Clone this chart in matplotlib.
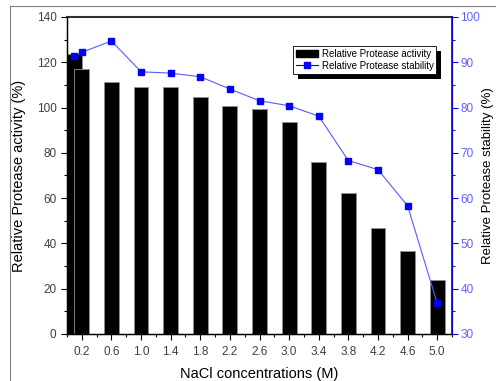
#!/usr/bin/env python3
# -*- coding: utf-8 -*-
"""Protease activity (bars) and stability (line) versus NaCl concentration."""

import numpy as np
import matplotlib.pyplot as plt
from matplotlib.lines import Line2D
from matplotlib.patches import Rectangle
from matplotlib.transforms import IdentityTransform
from matplotlib.ticker import MultipleLocator, FixedLocator

# -----------------------------
# Data
# -----------------------------
nacl = [0.1, 0.2, 0.6, 1.0, 1.4, 1.8, 2.2, 2.6, 3.0, 3.4, 3.8, 4.2, 4.6, 5.0]
activity = [123.5, 117.2, 111.3, 109.2, 109.2, 104.5, 100.6, 99.4, 93.6,
            76.0, 62.1, 47.0, 36.7, 23.9]
stability = [91.4, 92.2, 94.7, 87.9, 87.6, 86.8, 84.1, 81.5, 80.4,
             78.1, 68.3, 66.3, 58.3, 36.8]
tick_labels = ["0.2", "0.6", "1.0", "1.4", "1.8", "2.2", "2.6", "3.0",
               "3.4", "3.8", "4.2", "4.6", "5.0"]

BLUE = "#0000ff"
TICK_GRAY = "#404040"


def main() -> None:
    plt.rcParams["font.family"] = ["Liberation Sans", "DejaVu Sans"]

    fig = plt.figure(figsize=(4.96, 3.81), dpi=100)
    ax = fig.add_axes([0.1351, 0.1234, 0.7762, 0.832])

    # outer frame of the original figure (only top and left visible)
    fig.add_artist(Line2D([10 / 496, 1.0], [1 - 6 / 381, 1 - 6 / 381],
                          transform=fig.transFigure, color="#808080", lw=0.8))
    fig.add_artist(Line2D([10 / 496, 10 / 496], [0.0, 1 - 6 / 381],
                          transform=fig.transFigure, color="#808080", lw=0.8))

    # ---- bars: activity
    ax.bar(nacl, activity, width=0.2, color="black", edgecolor="#909090",
           linewidth=0.6, zorder=2)
    ax.set_xlim(0, 5.2)
    ax.set_ylim(0, 140)
    ax.yaxis.set_major_locator(MultipleLocator(20))
    ax.yaxis.set_minor_locator(MultipleLocator(10))
    ax.xaxis.set_major_locator(FixedLocator([float(t) for t in tick_labels]))
    ax.xaxis.set_minor_locator(FixedLocator(np.arange(0.0, 5.3, 0.4)))
    ax.set_xticklabels(tick_labels)
    ax.tick_params(axis="both", which="major", direction="out", length=4,
                   width=0.8, colors="black", labelcolor=TICK_GRAY, labelsize=8.5)
    ax.tick_params(axis="both", which="minor", direction="out", length=2,
                   width=0.8, colors="black")
    ax.tick_params(axis="x", pad=5)
    ax.set_xlabel("NaCl concentrations (M)", fontsize=10.5, labelpad=6)
    ax.set_ylabel("Relative Protease activity (%)", fontsize=10.5, labelpad=8)
    for side in ("left", "bottom"):
        ax.spines[side].set_linewidth(1.0)
    ax.spines["top"].set_color("#303030")
    ax.spines["top"].set_linewidth(1.5)

    # ---- line: stability on twin axis
    ax2 = ax.twinx()
    ax2.plot(nacl, stability, color="#5a5aff", lw=0.8, marker="s",
             markersize=5, markerfacecolor=BLUE, markeredgecolor=BLUE, zorder=3)
    ax2.set_ylim(30, 100)
    ax2.yaxis.set_major_locator(MultipleLocator(10))
    ax2.yaxis.set_minor_locator(MultipleLocator(5))
    ax2.tick_params(axis="y", which="major", direction="out", length=4,
                    width=0.8, colors=BLUE, labelcolor="#6060ff", labelsize=8.5,
                    pad=2)
    ax2.tick_params(axis="y", which="minor", direction="out", length=2,
                    width=0.8, colors=BLUE)
    ax2.spines["right"].set_color(BLUE)
    ax2.spines["right"].set_linewidth(1.2)
    ax2.spines["top"].set_visible(False)
    ax2.set_ylabel("Relative Protease stability (%)", fontsize=9.5, labelpad=1)

    # ---- legend with solid drop shadow
    handles = [
        Rectangle((0, 0), 1, 1, facecolor="black", edgecolor="black"),
        Line2D([], [], color=BLUE, lw=0.8, marker="s", markersize=4,
               markerfacecolor=BLUE, markeredgecolor=BLUE),
    ]
    leg = ax2.legend(handles, ["Relative Protease activity",
                               "Relative Protease stability"],
                     loc="upper left", bbox_to_anchor=(0.588, 0.9085),
                     fontsize=7, frameon=True, fancybox=False, shadow=False,
                     framealpha=1.0, borderpad=0.3, labelspacing=0.2,
                     handlelength=2.2, handletextpad=0.4, borderaxespad=0)
    leg.get_frame().set_edgecolor("black")
    leg.get_frame().set_linewidth(0.6)
    leg.set_zorder(6)

    fig.canvas.draw()
    bb = leg.get_window_extent()
    shadow = Rectangle((bb.x0 + 5, bb.y0 - 5), bb.width, bb.height,
                       transform=IdentityTransform(), facecolor="black",
                       edgecolor="none", zorder=5.5, clip_on=False)
    ax2.add_artist(shadow)

    fig.savefig("out.png", dpi=100)
    plt.close(fig)


if __name__ == "__main__":
    main()
